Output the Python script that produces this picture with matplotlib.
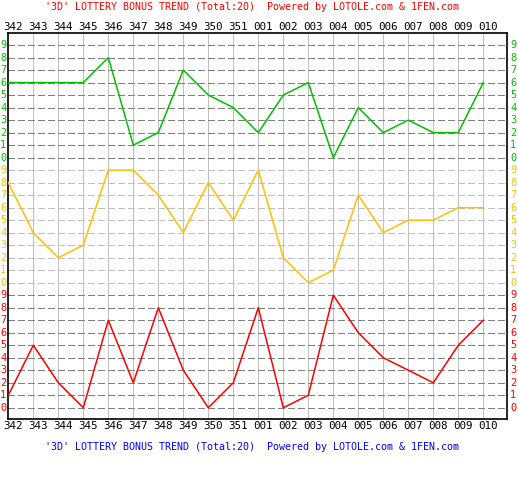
import matplotlib
matplotlib.use('Agg')
import matplotlib.pyplot as plt

# issues and the three bonus digits per draw
issues = ['342', '343', '344', '345', '346', '347', '348', '349', '350', '351',
          '001', '002', '003', '004', '005', '006', '007', '008', '009', '010']
green_vals = [6, 6, 6, 6, 8, 1, 2, 7, 5, 4, 2, 5, 6, 0, 4, 2, 3, 2, 2, 6]
orange_vals = [8, 4, 2, 3, 9, 9, 7, 4, 8, 5, 9, 2, 0, 1, 7, 4, 5, 5, 6, 6]
red_vals = [1, 5, 2, 0, 7, 2, 8, 3, 0, 2, 8, 0, 1, 9, 6, 4, 3, 2, 5, 7]
digits = [str(d) for d in range(10)]

W, H = 518, 500
FONT = 'DejaVu Sans Mono'
FS = 7.4

fig = plt.figure(figsize=(W / 100, H / 100), dpi=100)
fig.patch.set_facecolor('white')

# plot box in pixels
left_px, right_px, top_px, bot_px = 8.3, 507.3, 33.3, 419.0
ax = fig.add_axes([left_px / W, 1 - bot_px / H, (right_px - left_px) / W, (bot_px - top_px) / H])
ax.set_xlim(0, (right_px - left_px) / 25.0)
ax.set_ylim(-0.9, 29.94)
ax.set_xticks([])
ax.set_yticks([])
for s in ax.spines.values():
    s.set_color('black')
    s.set_linewidth(1.2)

x = list(range(len(issues)))

# vertical grid
for i in x[1:]:
    ax.axvline(i, color='#c0c0c0', lw=0.72, zorder=1, antialiased=False)

bands = [
    (20, green_vals, '#00c000', '#808080'),
    (10, orange_vals, '#ffc000', '#c0c0c0'),
    (0, red_vals, '#ff0000', '#808080'),
]

for off, vals, col, gcol in bands:
    for d in range(10):
        ax.axhline(off + d, color=gcol, lw=0.72, linestyle=(0, (6, 4)), zorder=1,
                   antialiased=False)
        ax.text(-0.08, off + d, digits[d], color=col, ha='right', va='center',
                fontsize=FS, family=FONT, clip_on=False)
        ax.text(20.07, off + d, digits[d], color=col, ha='left', va='center',
                fontsize=FS, family=FONT, clip_on=False)
    ax.plot(x, [v + off for v in vals], color=col, lw=1.1, zorder=3)

# issue labels top and bottom
for i, lab in enumerate(issues):
    xp = (left_px + i * 25 + 4.5) / W
    fig.text(xp, 1 - 27 / H, lab, ha='center', va='center', fontsize=FS + 0.4, family=FONT)
    fig.text(xp, 1 - 426 / H, lab, ha='center', va='center', fontsize=FS + 0.4, family=FONT)

title = "'3D' LOTTERY BONUS TREND (Total:20)  Powered by LOTOLE.com & 1FEN.com"
fig.text(45 / W, 1 - 7 / H, title, color='#ff0000', ha='left', va='center', fontsize=7.2, family=FONT)
fig.text(45 / W, 1 - 447.5 / H, title, color='#0000ff', ha='left', va='center', fontsize=7.2, family=FONT)

fig.savefig('out.png', dpi=100, facecolor='white')
